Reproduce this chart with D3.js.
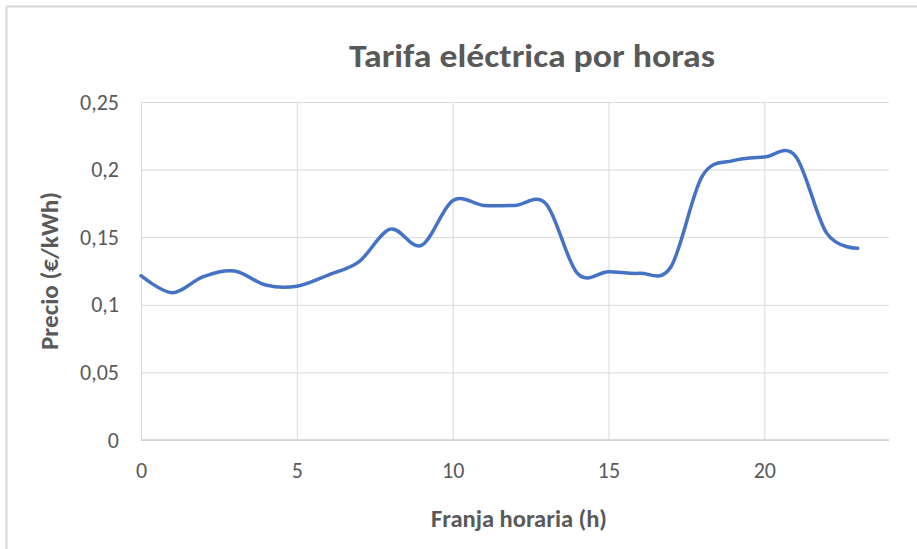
<!DOCTYPE html>
<html>
<head>
<meta charset="utf-8">
<script src="https://cdn.jsdelivr.net/npm/d3@7"></script>
<style>
  body { margin: 0; background: #fff; }
  text { font-family: Calibri, Carlito, "Open Sans", sans-serif; fill: #595959; }
</style>
</head>
<body>
<svg width="917" height="549"></svg>
<script>
// horas y precios
var horas = [0, 1, 2, 3, 4, 5, 6, 7, 8, 9, 10, 11, 12, 13, 14, 15, 16, 17, 18, 19, 20, 21, 22, 23];
var precios = [0.1215, 0.109, 0.1208, 0.125, 0.1146, 0.1137, 0.122, 0.132, 0.156, 0.144,
               0.177, 0.1735, 0.1735, 0.1745, 0.1233, 0.1245, 0.1233, 0.128, 0.1948, 0.2066,
               0.2093, 0.210, 0.153, 0.1418];
var xTicks = [0, 5, 10, 15, 20];
var yTicks = [0, 0.05, 0.1, 0.15, 0.2, 0.25];

var titulo = "Tarifa eléctrica por horas";
var tituloX = "Franja horaria (h)";
var tituloY = "Precio (€/kWh)";

var svg = d3.select("svg"),
    width = +svg.attr("width"),
    height = +svg.attr("height");

var margin = {left: 141, right: 28, top: 102, bottom: 109};

var x = d3.scaleLinear().domain([0, 24]).range([margin.left, width - margin.right]);
var y = d3.scaleLinear().domain([0, 0.25]).range([height - margin.bottom, margin.top]);

var fmt = function(d) { return String(d).replace(".", ","); };

// marco del grafico
svg.append("line").attr("x1", 6.5).attr("x2", width).attr("y1", 6.5).attr("y2", 6.5)
  .attr("stroke", "#d9d9d9").attr("stroke-width", 2);
svg.append("line").attr("x1", 6.5).attr("x2", 6.5).attr("y1", 6.5).attr("y2", height)
  .attr("stroke", "#d9d9d9").attr("stroke-width", 2);

// rejilla
svg.append("g")
  .attr("transform", "translate(0," + y(0) + ")")
  .call(d3.axisBottom(x).tickValues(xTicks).tickSize(-(y(0) - y(0.25))).tickFormat(fmt).tickPadding(22))
  .call(function(g) {
    g.select(".domain").remove();
    g.selectAll(".tick line").attr("stroke", "#d9d9d9");
    g.selectAll(".tick text").style("font-size", "22px").attr("fill", "#595959");
  });

svg.append("g")
  .attr("transform", "translate(" + x(0) + ",0)")
  .call(d3.axisLeft(y).tickValues(yTicks).tickSize(-(x(24) - x(0))).tickFormat(fmt).tickPadding(22))
  .call(function(g) {
    g.select(".domain").remove();
    g.selectAll(".tick line").attr("stroke", "#d9d9d9");
    g.selectAll(".tick text").style("font-size", "22px").attr("fill", "#595959");
  });

// eje x
svg.append("line")
  .attr("x1", x(0)).attr("x2", x(24)).attr("y1", y(0)).attr("y2", y(0))
  .attr("stroke", "#d0d0d0").attr("stroke-width", 1.5);

var linea = d3.line()
  .x(function(d, i) { return x(horas[i]); })
  .y(function(d) { return y(d); })
  .curve(d3.curveCardinal.tension(0));

svg.append("path")
  .datum(precios)
  .attr("d", linea)
  .attr("fill", "none")
  .attr("stroke", "#4472c4")
  .attr("stroke-width", 3.5)
  .attr("stroke-linecap", "round");

svg.append("text")
  .attr("x", 532).attr("y", 67)
  .attr("text-anchor", "middle")
  .attr("textLength", 366).attr("lengthAdjust", "spacingAndGlyphs")
  .style("font-size", "33px").style("font-weight", "bold")
  .text(titulo);

svg.append("text")
  .attr("x", 519).attr("y", 527)
  .attr("text-anchor", "middle")
  .attr("textLength", 176).attr("lengthAdjust", "spacingAndGlyphs")
  .style("font-size", "24px").style("font-weight", "bold")
  .text(tituloX);

svg.append("text")
  .attr("transform", "translate(58,271) rotate(-90)")
  .attr("text-anchor", "middle")
  .attr("textLength", 158).attr("lengthAdjust", "spacingAndGlyphs")
  .style("font-size", "24px").style("font-weight", "bold")
  .text(tituloY);
</script>
</body>
</html>
